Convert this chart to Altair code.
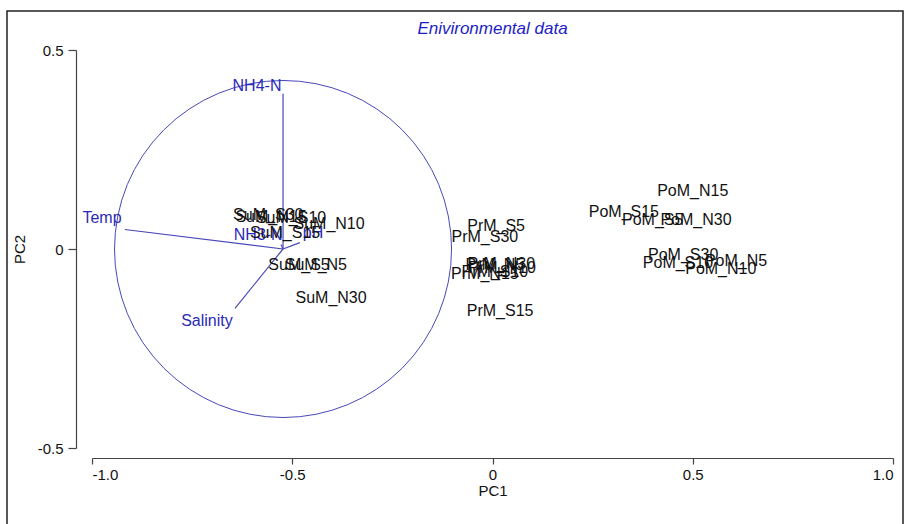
import altair as alt
import pandas as pd

# ---- data ----
sample_names = [
    "PoM_N15", "PoM_S15", "PoM_S5", "PoM_N30", "PoM_S30", "PoM_S10", "PoM_N10", "PoM_N5",
    "PrM_S5", "PrM_S30", "PrM_S15", "PrM_N30", "PrM_N5", "PrM_N10", "PrM_N15", "PrM_S10",
    "SuM_S30", "SuM_N15", "SuM_S10", "SuM_N10", "SuM_S15", "SuM_S5", "SuM_N5", "SuM_N30",
]
sample_pc1 = [
    0.500, 0.328, 0.400, 0.508, 0.476, 0.463, 0.570, 0.608,
    0.009, -0.019, 0.019, 0.022, 0.006, 0.024, -0.019, 0.006,
    -0.560, -0.553, -0.503, -0.408, -0.518, -0.483, -0.441, -0.403,
]
sample_pc2 = [
    0.145, 0.094, 0.074, 0.072, -0.016, -0.036, -0.049, -0.031,
    0.059, 0.029, -0.155, -0.037, -0.041, -0.047, -0.064, -0.059,
    0.086, 0.081, 0.079, 0.064, 0.039, -0.039, -0.039, -0.124,
]

var_names = ["NH4-N", "Temp", "Salinity", "NH3-N", "pH"]
var_pc1 = [-0.523, -0.918, -0.643, -0.528, -0.481]
var_pc2 = [0.390, 0.049, -0.149, 0.011, 0.016]
var_label_pc1 = [-0.588, -0.975, -0.713, -0.585, -0.448]
var_label_pc2 = [0.410, 0.077, -0.180, 0.034, 0.041]
origin_pc1 = [-0.523]
origin_pc2 = [0.0]

x_ticks = [-1.0, -0.5, 0.0, 0.5, 1.0]
y_ticks = [-0.5, 0.0, 0.5]

FONT = "Liberation Sans"
BLUE_TEXT = "#2a2ab8"
BLUE_LINE = "#4848b8"

samples = pd.DataFrame({"name": sample_names, "PC1": sample_pc1, "PC2": sample_pc2})
vectors = pd.DataFrame({
    "name": var_names,
    "x0": origin_pc1 * len(var_names),
    "y0": origin_pc2 * len(var_names),
    "x1": var_pc1,
    "y1": var_pc2,
    "lx": var_label_pc1,
    "ly": var_label_pc2,
})
origin = pd.DataFrame({"PC1": origin_pc1, "PC2": origin_pc2})

xscale = alt.Scale(domain=[-1, 1], nice=False, zero=False)
yscale = alt.Scale(domain=[-0.5, 0.5], nice=False, zero=False)

label_expr = ("datum.value == 0 ? '0' : (datum.value < 0 ? '-' + format(-datum.value, '.1f')"
              " : format(datum.value, '.1f'))")

xaxis = alt.Axis(values=x_ticks, title="PC1", offset=10, tickSize=6, labelPadding=3,
                 titlePadding=1, grid=False, labelExpr=label_expr)
yaxis = alt.Axis(values=y_ticks, title="PC2", offset=16, tickSize=8, labelPadding=5,
                 titlePadding=10, grid=False, labelExpr=label_expr)

base_x = alt.X("PC1:Q", scale=xscale, axis=xaxis)
base_y = alt.Y("PC2:Q", scale=yscale, axis=yaxis)

circle = alt.Chart(origin).mark_point(
    shape="circle", size=113600, filled=False, color=BLUE_LINE, strokeWidth=1, opacity=1
).encode(x=base_x, y=base_y)

rules = alt.Chart(vectors).mark_rule(color=BLUE_LINE, strokeWidth=1.2).encode(
    x=alt.X("x0:Q", scale=xscale, axis=xaxis),
    y=alt.Y("y0:Q", scale=yscale, axis=yaxis),
    x2="x1:Q",
    y2="y1:Q",
)

var_text = alt.Chart(vectors).mark_text(
    font=FONT, fontSize=16, color=BLUE_TEXT, align="center", baseline="middle"
).encode(
    x=alt.X("lx:Q", scale=xscale, axis=xaxis),
    y=alt.Y("ly:Q", scale=yscale, axis=yaxis),
    text="name:N",
)

sample_text = alt.Chart(samples).mark_text(
    font=FONT, fontSize=16, color="#111111", align="center", baseline="middle"
).encode(x=base_x, y=base_y, text="name:N")

frame = alt.Chart(pd.DataFrame({"a": [0]})).mark_rect(
    fillOpacity=0, stroke="#222222", strokeWidth=1.5
).encode(x=alt.value(-85), x2=alt.value(811), y=alt.value(-39), y2=alt.value(480))

chart = alt.layer(frame, circle, rules, var_text, sample_text).properties(
    width=801,
    height=398,
    padding={"left": 92, "top": 50, "right": 13, "bottom": 76},
    autosize=alt.AutoSizeParams(type="none"),
    title=alt.TitleParams(
        "Enivironmental data", font=FONT, fontSize=17, fontStyle="italic",
        fontWeight="normal", color="#1c1cc8", anchor="middle", offset=0, dy=28,
    ),
).configure(background="white").configure_axis(
    grid=False, domainColor="#444444", tickColor="#444444", labelColor="#111111",
    labelFont=FONT, labelFontSize=15, titleFont=FONT, titleFontSize=15,
    titleFontWeight="normal", titleColor="#111111", domainWidth=1.2, tickWidth=1.2,
).configure_view(strokeWidth=0)

chart.save("out.html", embed_options={"renderer": "svg", "actions": False})
